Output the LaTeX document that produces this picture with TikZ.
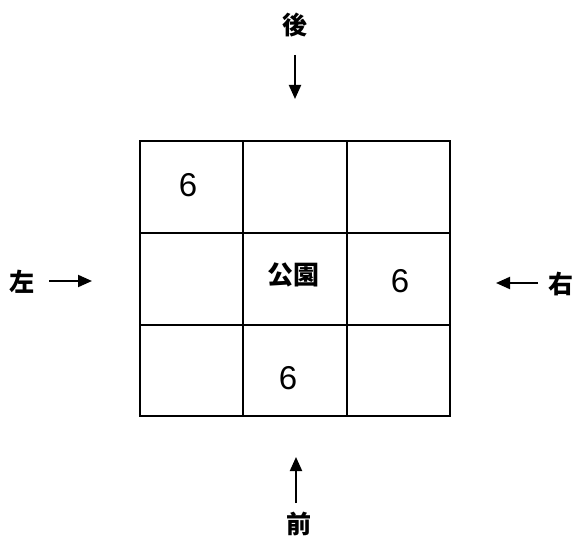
\documentclass[tikz,border=0pt]{standalone}
\usepackage{fontspec}
\setmainfont{Liberation Sans}
\newfontfamily\cjk{Noto Sans CJK JP}
\usetikzlibrary{arrows.meta}
\begin{document}
\begin{tikzpicture}[x=1pt,y=-1pt,
  cell/.style={draw,line width=2pt,minimum width=103.3pt,minimum height=91.7pt,inner sep=0pt},
  digit/.style={font=\fontsize{33}{33}\selectfont,inner sep=0pt},
  dirlabel/.style={font=\cjk\bfseries\fontsize{25}{25}\selectfont,inner sep=0pt},
  dirarrow/.style={line width=2pt,-{Triangle[length=14pt,width=12pt]}}]
\useasboundingbox (0,0) rectangle (578,540);
\node[cell] (c11) at (191.7,187) {};
\node[cell] (c12) at (295,187) {};
\node[cell] (c13) at (398.3,187) {};
\node[cell] (c21) at (191.7,278.7) {};
\node[cell] (c22) at (295,278.7) {};
\node[cell] (c23) at (398.3,278.7) {};
\node[cell] (c31) at (191.7,370.4) {};
\node[cell] (c32) at (295,370.4) {};
\node[cell] (c33) at (398.3,370.4) {};
\node[digit] (n11) at (188,185) {6};
\node[digit] (n23) at (400,281) {6};
\node[digit] (n32) at (288,378) {6};
\node[font=\cjk\bfseries\fontsize{26}{26}\selectfont,inner sep=0pt] (park) at (293,275) {公園};
\node[dirlabel] (back) at (295,25) {後};
\node[dirlabel] (front) at (299,524) {前};
\node[dirlabel] (left) at (22,282) {左};
\node[dirlabel] (right) at (561,284) {右};
\coordinate (bt) at (295,55);
\coordinate (bh) at (295,99);
\coordinate (ft) at (296,503);
\coordinate (fh) at (296,457);
\coordinate (lt) at (49,281);
\coordinate (lh) at (92,281);
\coordinate (rt) at (538,283);
\coordinate (rh) at (496,283);
\draw[dirarrow] (bt) -- (bh);
\draw[dirarrow] (ft) -- (fh);
\draw[dirarrow] (lt) -- (lh);
\draw[dirarrow] (rt) -- (rh);
\end{tikzpicture}
\end{document}
